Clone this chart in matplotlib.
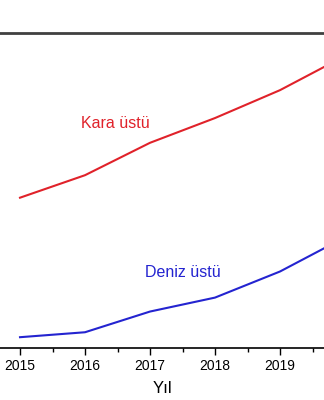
import matplotlib
matplotlib.use("Agg")
import matplotlib.pyplot as plt
from matplotlib.ticker import MultipleLocator

plt.rcParams["font.family"] = ["Liberation Sans", "DejaVu Sans"]

years = [2015, 2016, 2017, 2018, 2019, 2020]
kara_ustu = [33.4, 38.4, 45.6, 51.1, 57.3, 64.9]
deniz_ustu = [2.4, 3.5, 8.1, 11.2, 17.0, 24.6]
year_ticks = [2015, 2016, 2017, 2018, 2019]

fig = plt.figure(figsize=(3.24, 4.0), dpi=100)
ax = fig.add_axes([0, 0.13, 1, 0.7875])

ax.plot(years, kara_ustu, color="#e0222a", lw=1.5)
ax.plot(years, deniz_ustu, color="#2424d0", lw=1.5)

ax.text(2015.94, 49.8, "Kara üstü", color="#e0222a", fontsize=11.5, va="center")
ax.text(2016.92, 16.7, "Deniz üstü", color="#2424d0", fontsize=11.5, va="center")

ax.set_xlim(2015 - 20 / 65, 2015 + 304 / 65)
ax.set_ylim(0, 70)
ax.set_xticks(year_ticks)
ax.set_xticklabels([str(y) for y in year_ticks], fontsize=10)
ax.xaxis.set_minor_locator(MultipleLocator(0.5))
ax.tick_params(axis="x", which="major", length=5, width=1, direction="out", pad=3)
ax.tick_params(axis="x", which="minor", length=3, width=1, direction="out")
ax.set_yticks([])
ax.set_xlabel("Yıl", fontsize=12, labelpad=6)

ax.spines["left"].set_visible(False)
ax.spines["right"].set_visible(False)
ax.spines["top"].set_color("#404040")
ax.spines["top"].set_linewidth(2)
ax.spines["bottom"].set_linewidth(1.2)

fig.savefig("out.png", dpi=100, facecolor="white")
